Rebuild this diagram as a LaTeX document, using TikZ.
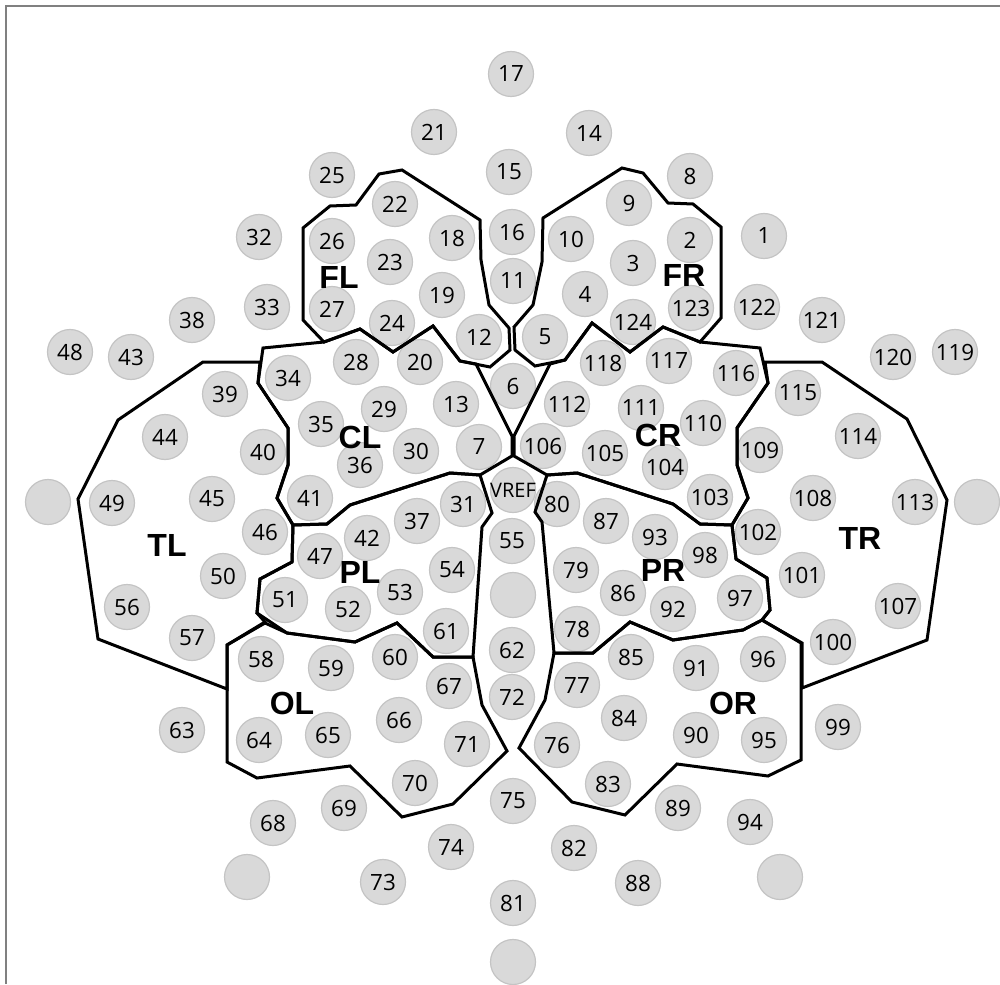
\documentclass[tikz,border=0pt]{standalone}
\usepackage{fontspec}
\setmainfont{Open Sans}
\newfontfamily\regfont{Liberation Sans}
\definecolor{elecfill}{HTML}{D9D9D9}
\definecolor{elecdraw}{HTML}{C4C4C4}
\definecolor{framegray}{HTML}{808080}
\begin{document}
\begin{tikzpicture}[x=0.5pt,y=-0.5pt,
  elec/.style={circle, fill=elecfill, draw=elecdraw, line width=0.6pt, minimum size=22.5pt, inner sep=0pt, font=\fontsize{11.2}{12}\selectfont},
  region/.style={line width=1.5pt, line join=miter, miter limit=4},
  reglabel/.style={font=\regfont\bfseries\fontsize{16}{16}\selectfont, inner sep=0pt}]
\useasboundingbox (0,0) rectangle (1000,984);
\draw[framegray, line width=1pt] (5.5,984) -- (5.5,6.5) -- (1000,6.5);
% electrodes
\foreach \n/\x/\y in {1/764/236, 2/690/240, 3/633/263, 4/585/294, 5/545/337, 6/513/386, 7/479/447, 8/690/176, 9/629/203, 10/571/239,
 11/513/281, 12/479/337, 13/456/404, 14/589/133, 15/509/172, 16/512/232, 17/511/74, 18/452/238, 19/442/295, 20/420/362,
 21/434/132, 22/395/204, 23/390/262, 24/392/323, 25/332/175, 26/332/241, 27/332/309, 28/356/362, 29/384/409, 30/416/451,
 31/463/504, 32/259/237, 33/267/307, 34/288/378, 35/321/424, 36/360/465, 37/417/521, 38/192/320, 39/225/394, 40/263/452,
 41/310/498, 42/367/538, 43/131/357, 44/165/437, 45/212/499, 46/265/532, 47/320/556, 48/70/352, 49/112/503, 50/223/576,
 51/285/600, 52/348/609, 53/400/592, 54/452/570, 55/512/541, 56/127/607, 57/192/638, 58/261/659, 59/331/668, 60/395/657,
 61/446/631, 62/512/650, 63/182/730, 64/259/740, 65/328/735, 66/399/720, 67/449/686, 68/273/823, 69/344/808, 70/415/783,
 71/467/744, 72/512/697, 73/383/882, 74/451/847, 75/513/801, 76/557/745, 77/577/685, 78/577/629, 79/576/570, 80/557/504,
 81/513/903, 82/574/848, 83/608/784, 84/624/718, 85/631/657, 86/623/593, 87/606/521, 88/638/883, 89/678/808, 90/696/735,
 91/696/668, 92/673/609, 93/655/537, 94/750/822, 95/764/740, 96/763/659, 97/740/598, 98/705/555, 99/838/727, 100/833/642,
 101/802/575, 102/758/532, 103/710/497, 104/665/467, 105/605/453, 106/543/446, 107/898/606, 108/813/498, 109/760/450, 110/703/423,
 111/641/408, 112/567/404, 113/915/502, 114/858/436, 115/798/393, 116/736/373, 117/669/361, 118/603/363, 119/955/352, 120/893/357,
 121/822/320, 122/757/307, 123/691/308, 124/633/322}
 \node[elec] (e\n) at (\x,\y) {\n};
\foreach \n/\x/\y in {1/48/502, 2/977/502, 3/513/595, 4/247/877, 5/780/877, 6/513/962}
 \node[elec] (b\n) at (\x,\y) {};
\node[elec] (vref) at (513,490) {};
\node[font=\fontsize{10}{12}\selectfont, inner sep=0pt] (vreftext) at (vref) {VREF};
% regions
\draw[region] (303,228) -- (330,206) -- (356,205) -- (379,174) -- (402,170) -- (480,220) -- (481,260) -- (489,305) -- (509,328) -- (510,350) -- (490,367) -- (460,361) -- (433,326) -- (393,352) -- (360,329) -- (324,342) -- (303,320) -- cycle;
\draw[region] (543,218) -- (622,168) -- (643,173) -- (668,203) -- (693,204) -- (721,227) -- (721,318) -- (700,342) -- (663,327) -- (630,352) -- (592,323) -- (565,360) -- (535,366) -- (515,350) -- (514,327) -- (533,305) -- (542,262) -- cycle;
\draw[region] (263,348) -- (324,342) -- (360,329) -- (393,352) -- (433,326) -- (460,361) -- (476,364) -- (512,436) -- (512,456) -- (480,475) -- (450,473) -- (350,505) -- (327,524) -- (293,525) -- (277,498) -- (288,465) -- (288,428) -- (258,383) -- cycle;
\draw[region] (550,364) -- (565,360) -- (592,323) -- (630,352) -- (663,327) -- (700,342) -- (760,348) -- (768,383) -- (737,428) -- (737,465) -- (748,498) -- (732,525) -- (700,524) -- (673,504) -- (577,473) -- (547,475) -- (514,456) -- (514,436) -- cycle;
\draw[region] (203,362) -- (260,362) -- (258,383) -- (288,428) -- (288,465) -- (277,498) -- (293,525) -- (292,562) -- (260,579) -- (257,613) -- (265,622) -- (227,645) -- (227,689) -- (98,639) -- (78,499) -- (118,420) -- cycle;
\draw[region] (765,362) -- (822,362) -- (907,419) -- (947,500) -- (927,640) -- (802,688) -- (802,643) -- (762,620) -- (770,610) -- (767,578) -- (736,559) -- (732,525) -- (748,498) -- (737,465) -- (737,428) -- (768,383) -- cycle;
\draw[region] (293,525) -- (327,524) -- (350,505) -- (450,473) -- (480,475) -- (492,513) -- (482,527) -- (473,657) -- (433,657) -- (397,623) -- (355,642) -- (287,633) -- (257,613) -- (260,579) -- (292,562) -- cycle;
\draw[region] (547,475) -- (577,473) -- (673,504) -- (700,524) -- (732,525) -- (736,559) -- (767,578) -- (770,610) -- (762,620) -- (743,630) -- (673,640) -- (630,622) -- (593,653) -- (554,653) -- (542,522) -- (535,512) -- cycle;
\draw[region] (265,623) -- (287,633) -- (355,642) -- (397,623) -- (433,657) -- (473,657) -- (482,705) -- (507,751) -- (453,804) -- (402,817) -- (350,766) -- (257,778) -- (227,762) -- (227,645) -- cycle;
\draw[region] (554,653) -- (593,653) -- (630,622) -- (673,640) -- (743,630) -- (762,620) -- (801,643) -- (801,760) -- (768,776) -- (677,764) -- (625,815) -- (572,802) -- (519,748) -- (545,700) -- cycle;
% region labels
\node[reglabel] (lFL) at (339,277) {FL};
\node[reglabel] (lFR) at (684,275) {FR};
\node[reglabel] (lCL) at (360,437) {CL};
\node[reglabel] (lCR) at (658,435) {CR};
\node[reglabel] (lTL) at (167,545) {TL};
\node[reglabel] (lTR) at (860,538) {TR};
\node[reglabel] (lPL) at (360,572) {PL};
\node[reglabel] (lPR) at (663,570) {PR};
\node[reglabel] (lOL) at (292,703) {OL};
\node[reglabel] (lOR) at (733,703) {OR};
\end{tikzpicture}
\end{document}
